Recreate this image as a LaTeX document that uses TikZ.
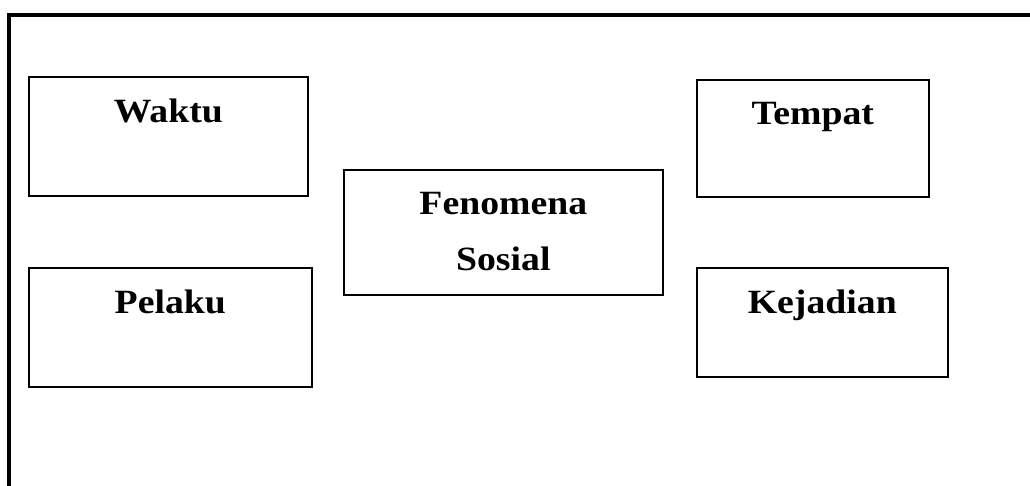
\documentclass[tikz,border=0pt]{standalone}
\usepackage{fontspec}
\setmainfont{Liberation Serif}[FakeStretch=1.11]
\usepackage{tikz}

\begin{document}
\begin{tikzpicture}[x=1pt,y=-1pt]
\tikzstyle{kotak}=[draw=black, line width=1.6pt, inner sep=0pt, anchor=north west]
\tikzstyle{judul}=[inner sep=0pt, anchor=base, font=\fontsize{34}{40}\selectfont\bfseries]
\useasboundingbox (0,0) rectangle (1030,486);
% bingkai luar
\draw [black, line width=4pt] (9,486) -- (9,15) -- (1030,15);
% kotak
\node [kotak, minimum width=279pt, minimum height=119pt] (waktu) at (28,76) {};
\node [kotak, minimum width=283pt, minimum height=119pt] (pelaku) at (28,267) {};
\node [kotak, minimum width=319pt, minimum height=125pt] (fenomena) at (343,169) {};
\node [kotak, minimum width=232pt, minimum height=117pt] (tempat) at (696,79) {};
\node [kotak, minimum width=251pt, minimum height=109pt] (kejadian) at (696,267) {};
% tulisan
\node [judul, yshift=-47pt] (twaktu) at (waktu.north) {Waktu};
\node [judul, yshift=-46pt] (tpelaku) at (pelaku.north) {Pelaku};
\node [judul, yshift=-46pt] (tfenomena) at (fenomena.north) {Fenomena};
\node [judul, yshift=-101pt] (tsosial) at (fenomena.north) {Sosial};
\node [judul, yshift=-46pt] (ttempat) at (tempat.north) {Tempat};
\node [judul, yshift=-46pt] (tkejadian) at (kejadian.north) {Kejadian};
\end{tikzpicture}
\end{document}
